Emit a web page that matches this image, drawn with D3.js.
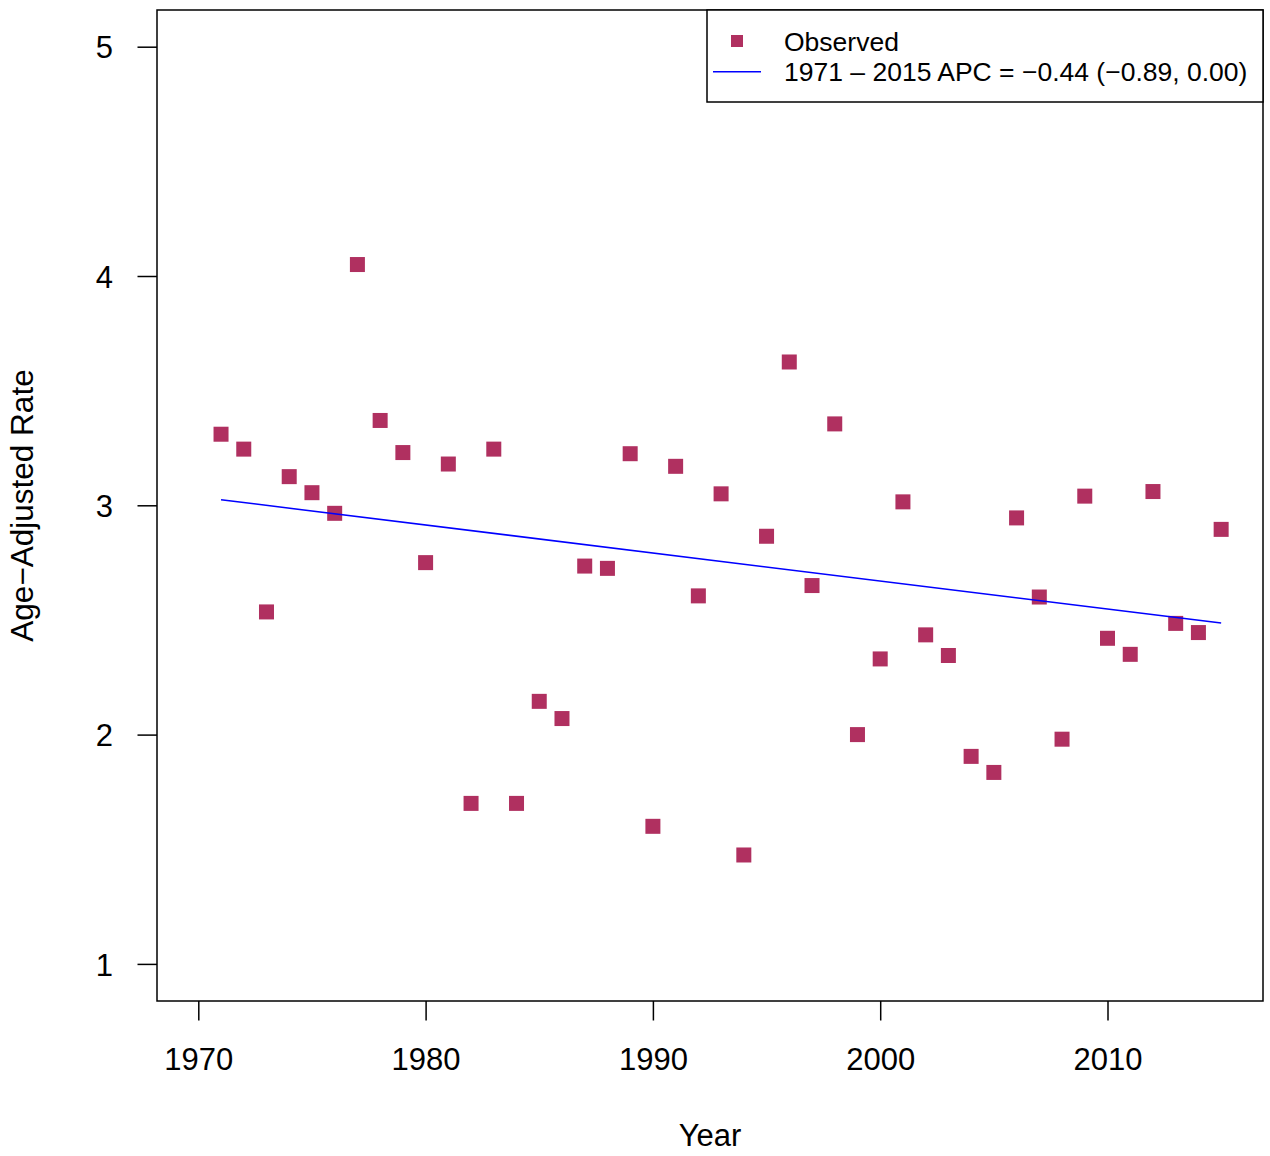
<!DOCTYPE html>
<html>
<head>
<meta charset="utf-8">
<script src="https://cdn.jsdelivr.net/npm/d3@7"></script>
<style>
  body { margin: 0; background: #fff; }
  svg { display: block; font-family: "Liberation Sans", Arial, Helvetica, sans-serif; }
  .axis text { font-size: 31px; fill: #000; }
  .axis line { stroke: #000; stroke-width: 1.5px; }
</style>
</head>
<body>
<div class="apc-viz"></div>
<script>
// observed age-adjusted rates by year
const years = [1971, 1972, 1973, 1974, 1975, 1976, 1977, 1978, 1979, 1980,
  1981, 1982, 1983, 1984, 1985, 1986, 1987, 1988, 1989, 1990,
  1991, 1992, 1993, 1994, 1995, 1996, 1997, 1998, 1999, 2000,
  2001, 2002, 2003, 2004, 2005, 2006, 2007, 2008, 2009, 2010,
  2011, 2012, 2013, 2014, 2015];
const rates = [3.31, 3.245, 2.535, 3.125, 3.055, 2.965, 4.05, 3.37, 3.23, 2.75,
  3.18, 1.70, 3.245, 1.70, 2.145, 2.07, 2.735, 2.725, 3.225, 1.60,
  3.17, 2.605, 3.05, 1.475, 2.865, 3.625, 2.65, 3.355, 2.00, 2.33,
  3.015, 2.435, 2.345, 1.905, 1.835, 2.945, 2.60, 1.98, 3.04, 2.42,
  2.35, 3.06, 2.485, 2.445, 2.895];

// fitted joinpoint segment
const trendYears = [1971, 2015];
const trendRates = [3.024, 2.487];

const xTicks = [1970, 1980, 1990, 2000, 2010];
const yTicks = [1, 2, 3, 4, 5];
const legendLabels = ["Observed", "1971 \u2013 2015 APC = \u22120.44 (\u22120.89, 0.00)"];

const W = 1270, H = 1156;
const box = { left: 157, right: 1263, top: 10, bottom: 1001 };

const svg = d3.select(".apc-viz")
  .append("svg")
  .attr("width", W)
  .attr("height", H);

const x = d3.scaleLinear()
  .domain([1970, 2010])
  .range([198.3, 1107.5]);

const y = d3.scaleLinear()
  .domain([1, 5])
  .range([963.9, 46.7]);

// X axis
svg.append("g")
  .attr("class", "axis")
  .attr("transform", `translate(0, ${box.bottom})`)
  .call(d3.axisBottom(x).tickValues(xTicks).tickFormat(d3.format("d")).tickSize(19.5))
  .call(g => g.select(".domain").remove())
  .selectAll("text")
  .attr("y", 69)
  .attr("dy", 0);

// Y axis
svg.append("g")
  .attr("class", "axis")
  .attr("transform", `translate(${box.left}, 0)`)
  .call(d3.axisLeft(y).tickValues(yTicks).tickFormat(d3.format("d")).tickSize(19.5))
  .call(g => g.select(".domain").remove())
  .selectAll("text")
  .attr("x", -44)
  .attr("dy", "0.36em");

// plot frame
svg.append("rect")
  .attr("x", box.left)
  .attr("y", box.top)
  .attr("width", box.right - box.left)
  .attr("height", box.bottom - box.top)
  .attr("fill", "none")
  .attr("stroke", "#000")
  .attr("stroke-width", 1.5);

// axis titles
svg.append("text")
  .attr("x", (box.left + box.right) / 2)
  .attr("y", 1146)
  .style("text-anchor", "middle")
  .style("font-size", "31px")
  .text("Year");

svg.append("text")
  .attr("transform", `translate(33, ${(box.top + box.bottom) / 2}) rotate(-90)`)
  .style("text-anchor", "middle")
  .style("font-size", "31.5px")
  .text("Age\u2212Adjusted Rate");

// observed points
const sq = 15;
svg.selectAll("rect.obs")
  .data(years)
  .enter()
  .append("rect")
  .attr("class", "obs")
  .attr("x", (d, i) => x(d) - sq / 2)
  .attr("y", (d, i) => y(rates[i]) - sq / 2)
  .attr("width", sq)
  .attr("height", sq)
  .attr("fill", "#B03060");

// trend line
const line = d3.line()
  .x((d, i) => x(d))
  .y((d, i) => y(trendRates[i]));

svg.append("path")
  .datum(trendYears)
  .attr("d", line)
  .attr("fill", "none")
  .attr("stroke", "#0000FF")
  .attr("stroke-width", 1.5);

// legend
const lg = svg.append("g");
lg.append("rect")
  .attr("x", 707)
  .attr("y", box.top)
  .attr("width", box.right - 707)
  .attr("height", 92)
  .attr("fill", "#fff")
  .attr("stroke", "#000")
  .attr("stroke-width", 1.5);

lg.append("rect")
  .attr("x", 737 - 6)
  .attr("y", 41 - 6)
  .attr("width", 12)
  .attr("height", 12)
  .attr("fill", "#B03060");

lg.append("line")
  .attr("x1", 713)
  .attr("x2", 761)
  .attr("y1", 71.7)
  .attr("y2", 71.7)
  .attr("stroke", "#0000FF")
  .attr("stroke-width", 1.5);

lg.selectAll("text.leg")
  .data(legendLabels)
  .enter()
  .append("text")
  .attr("class", "leg")
  .attr("x", 784)
  .attr("y", (d, i) => 50.7 + i * 30.3)
  .style("font-size", "26.5px")
  .text(d => d);
</script>
</body>
</html>
